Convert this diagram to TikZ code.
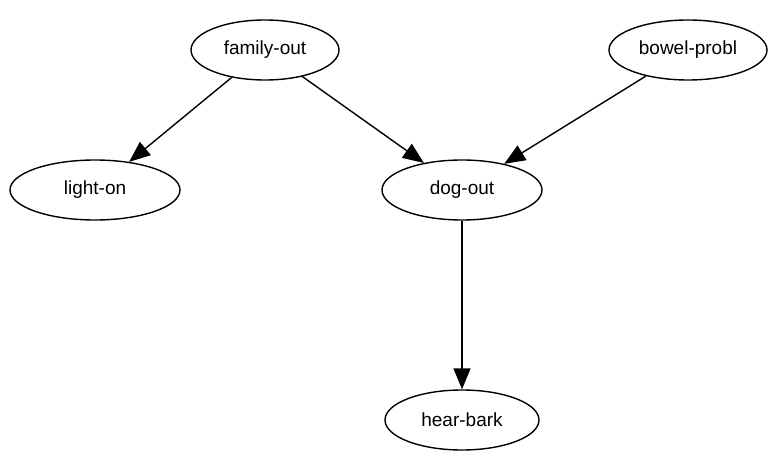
\documentclass[tikz,border=0pt]{standalone}
\usepackage{fontspec}
\setmainfont{Liberation Sans}
\usetikzlibrary{shapes.geometric,arrows.meta}
\begin{document}
\begin{tikzpicture}[x=1pt,y=-1pt,
  bnode/.style={ellipse,draw=black,line width=1.4pt,minimum width=#1,minimum height=60pt,inner sep=0pt,font=\fontsize{19}{22}\selectfont},
  bnode/.default=158pt,
  edge/.style={draw=black,line width=1.4pt,-{Triangle[length=21pt,width=17pt]}}]
\useasboundingbox (0,0) rectangle (768,457);
\node[bnode=148pt] (fo) at (265,50) {family-out};
\node[bnode=158pt] (bp) at (688,50) {bowel-probl};
\node[bnode=170pt] (lo) at (95,190) {light-on};
\node[bnode=160pt] (do) at (462,190) {dog-out};
\node[bnode=154pt] (hb) at (462,420) {hear-bark};
\draw[edge] (fo) -- (lo);
\draw[edge] (fo) -- (do);
\draw[edge] (bp) -- (do);
\draw[edge] (do) -- (hb);
\end{tikzpicture}
\end{document}
